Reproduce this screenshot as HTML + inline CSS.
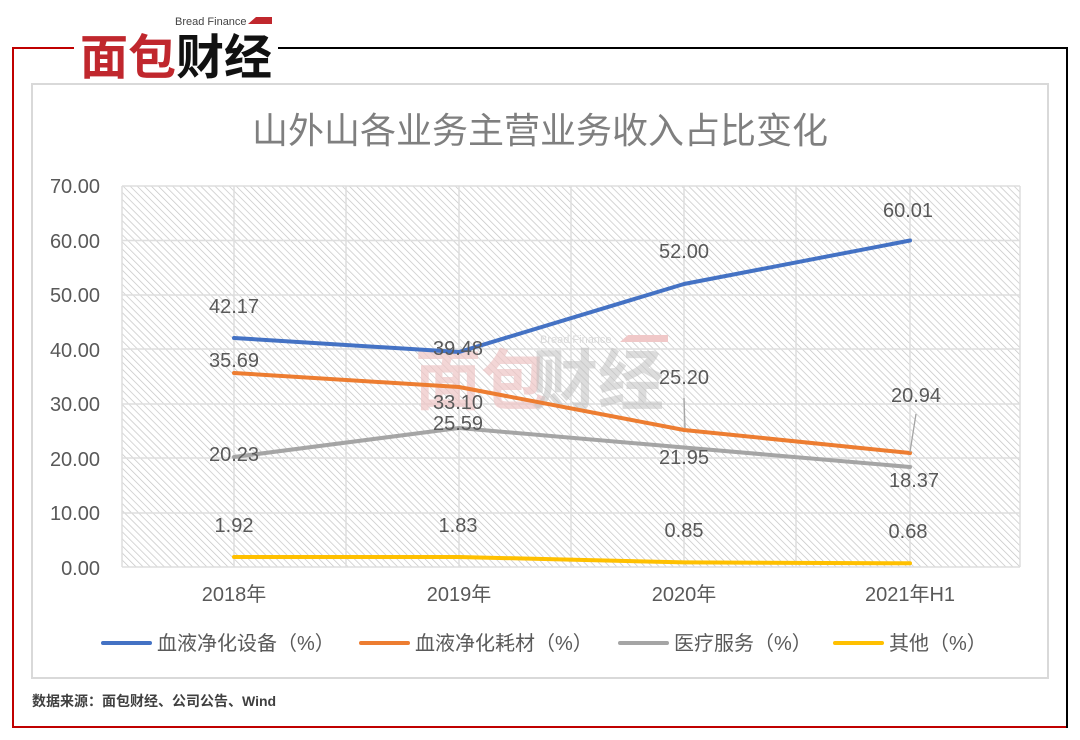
<!DOCTYPE html>
<html><head><meta charset="utf-8"><style>
html,body{margin:0;padding:0;background:#fff;width:1080px;height:740px;overflow:hidden}
svg text{font-family:"Liberation Sans","Noto Sans CJK SC",sans-serif}
</style></head><body>
<svg width="1080" height="740" viewBox="0 0 1080 740" xmlns="http://www.w3.org/2000/svg">
<defs>
<pattern id="h" width="5" height="5" patternUnits="userSpaceOnUse" patternTransform="rotate(-45)">
<rect width="5" height="5" fill="#fff"/><line x1="0" y1="0" x2="0" y2="5" stroke="#c4c4c4" stroke-width="1.4"/>
</pattern>
</defs>
<line x1="13" y1="48" x2="74" y2="48" stroke="#c00000" stroke-width="2"/>
<line x1="13" y1="47" x2="13" y2="728" stroke="#c00000" stroke-width="2"/>
<line x1="12" y1="727" x2="1067" y2="727" stroke="#c00000" stroke-width="2"/>
<line x1="278" y1="48" x2="1067" y2="48" stroke="#000" stroke-width="2"/>
<line x1="1067" y1="47" x2="1067" y2="728" stroke="#000" stroke-width="2"/>
<text x="175" y="25" font-size="11" fill="#444">Bread Finance</text>
<polygon points="248,24 256,17 272,17 272,24" fill="#c0272d"/>
<text x="80" y="74" font-size="48" font-weight="bold" fill="#c0272d" font-family="'Noto Sans CJK SC',sans-serif">面包</text>
<text x="176" y="74" font-size="48" font-weight="bold" fill="#111" font-family="'Noto Sans CJK SC',sans-serif">财经</text>
<rect x="32" y="84" width="1016" height="594" fill="#fff" stroke="#d9d9d9" stroke-width="2"/>
<text x="540" y="143" font-size="36" fill="#7f7f7f" text-anchor="middle">山外山各业务主营业务收入占比变化</text>
<rect x="122" y="186" width="898" height="381" fill="url(#h)"/>
<g stroke="#dedede" stroke-width="1.5">
<line x1="122" y1="186" x2="1020" y2="186"/><line x1="122" y1="240.5" x2="1020" y2="240.5"/>
<line x1="122" y1="295" x2="1020" y2="295"/><line x1="122" y1="349" x2="1020" y2="349"/>
<line x1="122" y1="404" x2="1020" y2="404"/><line x1="122" y1="458" x2="1020" y2="458"/>
<line x1="122" y1="513" x2="1020" y2="513"/><line x1="122" y1="567" x2="1020" y2="567"/>
<line x1="122" y1="186" x2="122" y2="567"/><line x1="234" y1="186" x2="234" y2="567"/>
<line x1="346" y1="186" x2="346" y2="567"/><line x1="459" y1="186" x2="459" y2="567"/>
<line x1="571" y1="186" x2="571" y2="567"/><line x1="684" y1="186" x2="684" y2="567"/>
<line x1="796" y1="186" x2="796" y2="567"/><line x1="910" y1="186" x2="910" y2="567"/>
<line x1="1020" y1="186" x2="1020" y2="567"/>
</g>
<text x="540" y="343" font-size="11" fill="#d9d9d9">Bread Finance</text>
<polygon points="620,342 628,335 668,335 668,342" fill="#f0c8c8"/>
<text x="415" y="404" font-size="66" font-weight="bold" fill="#eec4c4" fill-opacity="0.7" font-family="'Noto Sans CJK SC',sans-serif">面包</text>
<text x="532" y="404" font-size="66" font-weight="bold" fill="#bbb" fill-opacity="0.5" font-family="'Noto Sans CJK SC',sans-serif">财经</text>
<g font-size="20" fill="#595959" text-anchor="end">
<text x="100" y="193">70.00</text><text x="100" y="248">60.00</text><text x="100" y="302">50.00</text>
<text x="100" y="357">40.00</text><text x="100" y="411">30.00</text><text x="100" y="466">20.00</text>
<text x="100" y="520">10.00</text><text x="100" y="575">0.00</text>
</g>
<g font-size="20" fill="#595959" text-anchor="middle">
<text x="234" y="601">2018年</text><text x="459" y="601">2019年</text><text x="684" y="601">2020年</text><text x="910" y="601">2021年H1</text>
</g>
<g fill="none" stroke-width="4" stroke-linejoin="round" stroke-linecap="round">
<polyline points="234,557 459,557 684,562.4 910,563.3" stroke="#ffc000"/>
<polyline points="234,457 459,428 684,447.5 910,467" stroke="#a5a5a5"/>
<polyline points="234,373 459,387 684,430 910,453" stroke="#ed7d31"/>
<polyline points="234,338 459,352 684,284 910,240.5" stroke="#4472c4"/>
</g>
<g stroke="#a5a5a5" stroke-width="1.3">
<line x1="684" y1="398" x2="685" y2="428"/><line x1="916" y1="414" x2="910" y2="452"/>
</g>
<g font-size="20" fill="#595959" text-anchor="middle">
<text x="234" y="313">42.17</text><text x="234" y="367">35.69</text><text x="234" y="461">20.23</text><text x="234" y="532">1.92</text>
<text x="458" y="355">39.48</text><text x="458" y="409">33.10</text><text x="458" y="430">25.59</text><text x="458" y="532">1.83</text>
<text x="684" y="258">52.00</text><text x="684" y="384">25.20</text><text x="684" y="464">21.95</text><text x="684" y="537">0.85</text>
<text x="908" y="217">60.01</text><text x="916" y="402">20.94</text><text x="914" y="487">18.37</text><text x="908" y="538">0.68</text>
</g>
<g stroke-width="4" stroke-linecap="round">
<line x1="103" y1="643" x2="150" y2="643" stroke="#4472c4"/>
<line x1="361" y1="643" x2="408" y2="643" stroke="#ed7d31"/>
<line x1="620" y1="643" x2="667" y2="643" stroke="#a5a5a5"/>
<line x1="835" y1="643" x2="882" y2="643" stroke="#ffc000"/>
</g>
<g font-size="20" fill="#595959">
<text x="157" y="650">血液净化设备（%）</text>
<text x="415" y="650">血液净化耗材（%）</text>
<text x="674" y="650">医疗服务（%）</text>
<text x="889" y="650">其他（%）</text>
</g>
<text x="32" y="706" font-size="14" font-weight="bold" fill="#404040" font-family="'Liberation Mono','Noto Sans CJK SC',monospace">数据来源：面包财经、公司公告、Wind</text>
</svg>
</body></html>
